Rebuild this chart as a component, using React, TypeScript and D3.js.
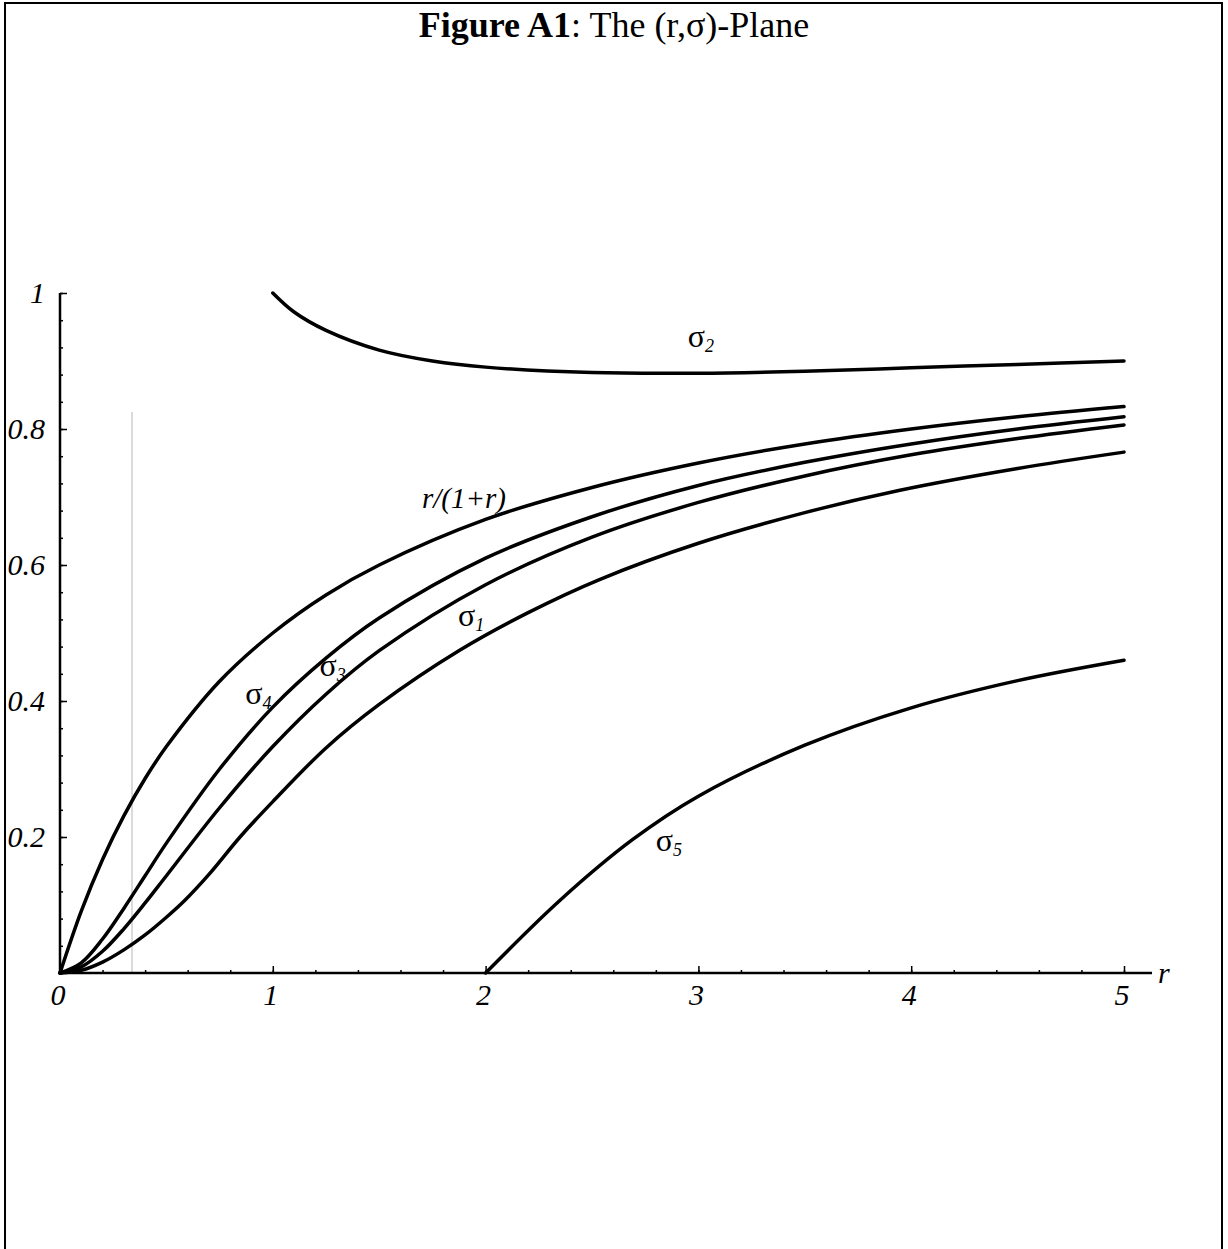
import React, { useEffect, useRef } from "react";
import * as d3 from "d3";

// values
const rGrid = [0, 0.1, 0.2, 0.3, 0.4, 0.5, 0.75, 1, 1.25, 1.5, 2, 2.5, 3, 3.5, 4, 4.5, 5];
const ratioVals = [0, 0.091, 0.167, 0.231, 0.286, 0.333, 0.429, 0.5, 0.556, 0.6, 0.667, 0.714, 0.75, 0.778, 0.8, 0.818, 0.833];
const sigma4Vals = [0, 0.015, 0.05, 0.095, 0.143, 0.191, 0.3, 0.391, 0.463, 0.522, 0.61, 0.671, 0.717, 0.751, 0.778, 0.8, 0.818];
const sigma3Vals = [0, 0.009, 0.032, 0.065, 0.103, 0.143, 0.243, 0.333, 0.41, 0.474, 0.571, 0.641, 0.692, 0.731, 0.762, 0.786, 0.806];

const sigma1R = [0, 0.1, 0.2, 0.3, 0.4, 0.5, 0.587, 0.7, 0.846, 1, 1.25, 1.5, 1.88, 2.2, 2.538, 3, 3.5, 3.947, 4.5, 5];
const sigma1Vals = [0, 0.004, 0.016, 0.034, 0.056, 0.082, 0.107, 0.145, 0.2, 0.252, 0.331, 0.395, 0.475, 0.53, 0.579, 0.632, 0.677, 0.71, 0.742, 0.766];

const sigma2R = [1, 1.1, 1.25, 1.5, 1.75, 2, 2.5, 3, 3.5, 4, 4.5, 5];
const sigma2Vals = [1, 0.972, 0.945, 0.916, 0.9, 0.891, 0.883, 0.882, 0.885, 0.89, 0.895, 0.9];

const sigma5R = [2, 2.35, 2.69, 3, 3.5, 4, 4.5, 5];
const sigma5Vals = [0, 0.107, 0.196, 0.26, 0.335, 0.39, 0.43, 0.46];

const xTicks = [0, 1, 2, 3, 4, 5];
const yTicks = [0.2, 0.4, 0.6, 0.8, 1];
const yTickLabels = ["0.2", "0.4", "0.6", "0.8", "1"];

// curve labels: [subscript, r, sigma at baseline]
const sigmaLabels: [string, number, number][] = [
  ["2", 2.95, 0.92],
  ["4", 0.87, 0.395],
  ["3", 1.22, 0.437],
  ["1", 1.87, 0.51],
  ["5", 2.8, 0.18],
];

const W = 1228;
const H = 1249;
const serif = "'Liberation Serif', 'Times New Roman', serif";

function Axes({ x, y }) {
  const xRef = useRef(null);
  const yRef = useRef(null);

  useEffect(() => {
    const minorX = d3.range(0, 5.001, 0.2);
    const minorY = d3.range(0, 1.001, 0.04);

    const gx = d3.select(xRef.current);
    gx.selectAll("*").remove();
    gx.append("g").call(d3.axisBottom(x).tickValues(minorX).tickSize(-3).tickFormat(() => ""));
    gx.append("g").call(d3.axisBottom(x).tickValues(xTicks).tickSize(-7).tickFormat(() => ""));
    gx.selectAll(".domain").remove();
    gx.selectAll("line").attr("stroke", "#000").attr("stroke-width", 1.5);

    const gy = d3.select(yRef.current);
    gy.selectAll("*").remove();
    gy.append("g").call(d3.axisLeft(y).tickValues(minorY).tickSize(-3).tickFormat(() => ""));
    gy.append("g").call(d3.axisLeft(y).tickValues(yTicks).tickSize(-7).tickFormat(() => ""));
    gy.selectAll(".domain").remove();
    gy.selectAll("line").attr("stroke", "#000").attr("stroke-width", 1.5);
  }, [x, y]);

  return (
    <>
      <g ref={xRef} transform={`translate(0, ${y(0)})`} />
      <g ref={yRef} transform={`translate(${x(0)}, 0)`} />
    </>
  );
}

export default function App() {
  const x = d3.scaleLinear().domain([0, 5]).range([60, 1124]);
  const y = d3.scaleLinear().domain([0, 1]).range([973, 293]);

  const line = d3
    .line<[number, number]>()
    .x((d) => x(d[0]))
    .y((d) => y(d[1]))
    .curve(d3.curveCatmullRom.alpha(0.5));

  const zip = (rs: number[], vs: number[]) => rs.map((r, i) => [r, vs[i]] as [number, number]);

  const series = [
    zip(rGrid, ratioVals),
    zip(rGrid, sigma4Vals),
    zip(rGrid, sigma3Vals),
    zip(sigma1R, sigma1Vals),
    zip(sigma2R, sigma2Vals),
    zip(sigma5R, sigma5Vals),
  ];

  return (
    <svg
      width={W}
      height={H}
      style={{ position: "absolute", left: 0, top: 0, background: "#fff" }}
      fontFamily={serif}
    >
      <rect x={0} y={0} width={W} height={H} fill="#fff" />
      {/* frame, open at the bottom */}
      <path d={`M5,${H} V3 H1222 V${H}`} fill="none" stroke="#000" strokeWidth={2} />

      <text x={614} y={37} textAnchor="middle" fontSize={36}>
        <tspan fontWeight="bold">Figure A1</tspan>
        <tspan>: The (r,σ)-Plane</tspan>
      </text>

      {/* scan artefact */}
      <line x1={132} x2={132} y1={412} y2={y(0)} stroke="#b5b5b5" strokeWidth={1} />

      {/* axes */}
      <line x1={x(0)} x2={1152} y1={y(0)} y2={y(0)} stroke="#000" strokeWidth={2.5} />
      <line x1={x(0)} x2={x(0)} y1={y(0)} y2={y(1)} stroke="#000" strokeWidth={2.5} />
      <Axes x={x} y={y} />

      {yTicks.map((t, i) => (
        <text key={`yt-${t}`} x={45} y={y(t) + 10} textAnchor="end" fontSize={30} fontStyle="italic">
          {yTickLabels[i]}
        </text>
      ))}
      {xTicks.map((t) => (
        <text key={`xt-${t}`} x={x(t) - 2} y={y(0) + 32} textAnchor="middle" fontSize={30} fontStyle="italic">
          {t}
        </text>
      ))}
      <text x={1158} y={y(0) + 10} fontSize={30} fontStyle="italic">
        r
      </text>

      {series.map((s, i) => (
        <path key={`s-${i}`} d={line(s)} fill="none" stroke="#000" strokeWidth={3.5} strokeLinecap="round" />
      ))}

      <text x={422} y={508} fontSize={29} fontStyle="italic">
        r/(1+r)
      </text>

      {sigmaLabels.map(([sub, r, v]) => (
        <text key={`sl-${sub}`} x={x(r)} y={y(v)} fontSize={32}>
          σ
          <tspan fontSize={18} fontStyle="italic" dy={5}>
            {sub}
          </tspan>
        </text>
      ))}
    </svg>
  );
}
